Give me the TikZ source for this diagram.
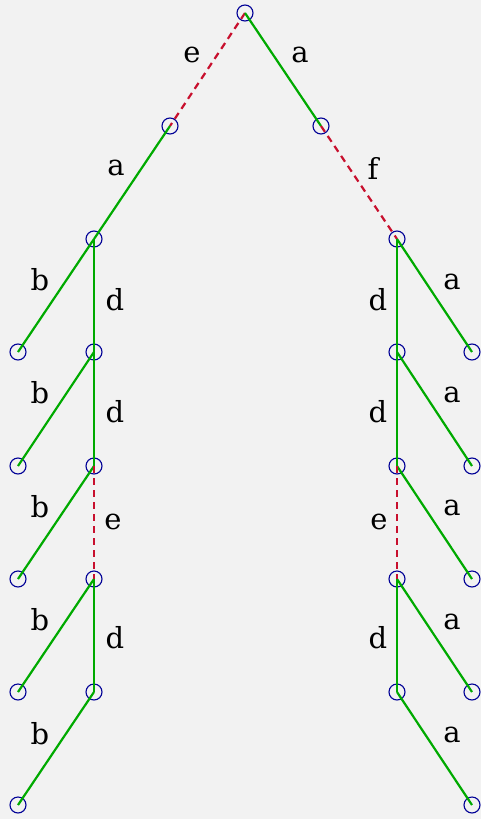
\documentclass[tikz,border=0pt]{standalone}
\usepackage{fontspec}
\setmainfont{DejaVu Serif}
\begin{document}
\begin{tikzpicture}[x=1pt,y=-1pt,
  vtx/.style={circle,draw=vcol,line width=1.1pt,minimum size=16pt,inner sep=0pt},
  sol/.style={draw=gcol,line width=2.2pt},
  dsh/.style={draw=rcol,line width=2.2pt,dash pattern=on 7pt off 5pt},
  lab/.style={font=\fontsize{29}{29}\selectfont,inner sep=0pt,text=black}]
\definecolor{vcol}{RGB}{0,0,150}
\definecolor{gcol}{RGB}{0,170,0}
\definecolor{rcol}{RGB}{200,16,46}
\definecolor{bg}{RGB}{242,242,242}
\fill[bg] (0,0) rectangle (481,819);
\useasboundingbox (0,0) rectangle (481,819);
% vertices
\node[vtx] (r) at (245,13) {};
\node[vtx] (l1) at (170,126) {};
\node[vtx] (r1) at (321,126) {};
\node[vtx] (L0) at (94,239) {};
\node[vtx] (L1) at (94,352) {};
\node[vtx] (L2) at (94,466) {};
\node[vtx] (L3) at (94,579) {};
\node[vtx] (L4) at (94,692) {};
\node[vtx] (la) at (18,352) {};
\node[vtx] (lb) at (18,466) {};
\node[vtx] (lc) at (18,579) {};
\node[vtx] (ld) at (18,692) {};
\node[vtx] (le) at (18,805) {};
\node[vtx] (R0) at (397,239) {};
\node[vtx] (R1) at (397,352) {};
\node[vtx] (R2) at (397,466) {};
\node[vtx] (R3) at (397,579) {};
\node[vtx] (R4) at (397,692) {};
\node[vtx] (ra) at (472,352) {};
\node[vtx] (rb) at (472,466) {};
\node[vtx] (rc) at (472,579) {};
\node[vtx] (rd) at (472,692) {};
\node[vtx] (re) at (472,805) {};
% edges
\draw[dsh] (r.center) -- (l1.center);
\draw[sol] (r.center) -- (r1.center);
\draw[sol] (l1.center) -- (L0.center);
\draw[dsh] (r1.center) -- (R0.center);
\draw[sol] (L0.center) -- (la.center);
\draw[sol] (L1.center) -- (lb.center);
\draw[sol] (L2.center) -- (lc.center);
\draw[sol] (L3.center) -- (ld.center);
\draw[sol] (L4.center) -- (le.center);
\draw[sol] (L0.center) -- (L1.center);
\draw[sol] (L1.center) -- (L2.center);
\draw[dsh] (L2.center) -- (L3.center);
\draw[sol] (L3.center) -- (L4.center);
\draw[sol] (R0.center) -- (ra.center);
\draw[sol] (R1.center) -- (rb.center);
\draw[sol] (R2.center) -- (rc.center);
\draw[sol] (R3.center) -- (rd.center);
\draw[sol] (R4.center) -- (re.center);
\draw[sol] (R0.center) -- (R1.center);
\draw[sol] (R1.center) -- (R2.center);
\draw[dsh] (R2.center) -- (R3.center);
\draw[sol] (R3.center) -- (R4.center);
% labels
\node[lab] (t1) at (192,55) {e};
\node[lab] (t2) at (300,55) {a};
\node[lab] (t3) at (116,168) {a};
\node[lab] (t4) at (373,168) {f};
\node[lab] (b1) at (40,280) {b};
\node[lab] (b2) at (40,393) {b};
\node[lab] (b3) at (40,507) {b};
\node[lab] (b4) at (40,620) {b};
\node[lab] (b5) at (40,734) {b};
\node[lab] (d1) at (115,300) {d};
\node[lab] (d2) at (115,412) {d};
\node[lab] (e1) at (113,522) {e};
\node[lab] (d3) at (115,638) {d};
\node[lab] (d4) at (378,300) {d};
\node[lab] (d5) at (378,412) {d};
\node[lab] (e2) at (379,522) {e};
\node[lab] (d6) at (378,638) {d};
\node[lab] (a1) at (452,282) {a};
\node[lab] (a2) at (452,395) {a};
\node[lab] (a3) at (452,508) {a};
\node[lab] (a4) at (452,622) {a};
\node[lab] (a5) at (452,735) {a};
\end{tikzpicture}
\end{document}
